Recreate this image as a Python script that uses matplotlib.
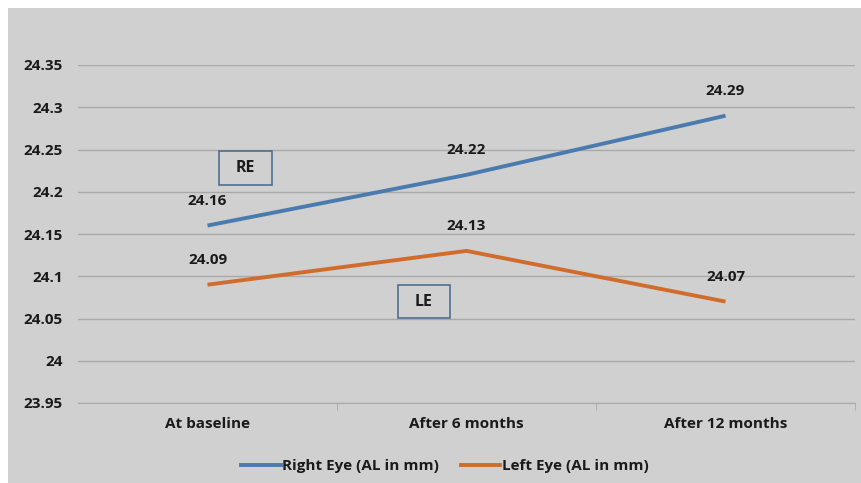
import matplotlib.pyplot as plt
from matplotlib.lines import Line2D
from matplotlib.patches import Rectangle

categories = ["At baseline", "After 6 months", "After 12 months"]
right_eye = [24.16, 24.22, 24.29]
left_eye = [24.09, 24.13, 24.07]
y_ticks = [23.95, 24, 24.05, 24.1, 24.15, 24.2, 24.25, 24.3, 24.35]
series_names = ["Right Eye (AL in mm)", "Left Eye (AL in mm)"]

BG = "#d0d0d0"
BLUE = "#4a7bae"
ORANGE = "#d06c2c"
GRID = "#a9a9a9"
TXT = "#1a1a1a"
W, H = 861, 483

plt.rcParams['font.family'] = ['Open Sans', 'DejaVu Sans']

fig = plt.figure(figsize=(W / 100, H / 100), dpi=100)
fig.patch.set_facecolor("white")
# grey chart area with a thin white margin on top and left
fig.patches.append(Rectangle((8 / W, 0), 1, 1 - 8 / H, transform=fig.transFigure,
                             facecolor=BG, edgecolor="none", zorder=-10))

ax = fig.add_axes([78 / W, 1 - 403 / H, (855 - 78) / W, (403 - 65) / H])
ax.set_zorder(1)
ax.set_facecolor(BG)
x = list(range(len(categories)))

ax.plot(x, right_eye, color=BLUE, lw=2.8, solid_capstyle="butt", zorder=3)
ax.plot(x, left_eye, color=ORANGE, lw=2.8, solid_capstyle="butt", zorder=3)

for series in (right_eye, left_eye):
    for xi, v in zip(x, series):
        ax.annotate(f"{v:g}", (xi, v), xytext=(0, 25), textcoords="offset pixels",
                    ha="center", va="center", fontsize=11, fontweight="bold", color=TXT)


def label_box(x0, y0, x1, y1, text):
    # framed text box placed in pixel coordinates of the figure
    ax.add_patch(Rectangle((x0 / W, 1 - y1 / H), (x1 - x0) / W, (y1 - y0) / H,
                           transform=fig.transFigure, facecolor="none",
                           edgecolor="#4f6f8f", lw=1.2, zorder=5))
    ax.text((x0 + x1) / 2 / W, 1 - (y0 + y1) / 2 / H, text, transform=fig.transFigure,
            ha="center", va="center", fontsize=11.5, fontweight="bold", color=TXT, zorder=5)


label_box(219, 151, 272, 185, "RE")
label_box(398, 285, 450, 318, "LE")

ax.set_xlim(-0.5, 2.5)
ax.set_ylim(23.95, 24.35)
ax.set_yticks(y_ticks)
ax.set_yticklabels([f"{t:g}" for t in y_ticks])
ax.yaxis.grid(True, color=GRID, lw=1)
ax.set_axisbelow(True)
ax.tick_params(axis="y", length=0, pad=11, labelsize=11, labelcolor=TXT)
for lab in ax.get_yticklabels():
    lab.set_fontweight("bold")
ax.set_xticks(x)
ax.set_xticklabels(categories, fontsize=11, fontweight="bold", color=TXT)
ax.tick_params(axis="x", length=0, pad=10)
# small category separator ticks
ax.set_xticks([0.5, 1.5, 2.5], minor=True)
ax.tick_params(axis="x", which="minor", length=5, color=GRID, direction="out")

for s in ["top", "right", "left"]:
    ax.spines[s].set_visible(False)
ax.spines["bottom"].set_color(GRID)

handles = [Line2D([], [], color=BLUE, lw=2.8), Line2D([], [], color=ORANGE, lw=2.8)]
leg = fig.legend(handles, series_names, loc="center", bbox_to_anchor=(445 / W, 1 - 466 / H),
                 ncol=2, frameon=False, handlelength=2.6, handletextpad=0.1, columnspacing=1.4,
                 prop=dict(size=11, weight="bold"))
for t in leg.get_texts():
    t.set_color(TXT)

fig.savefig("out.png", dpi=100, facecolor=fig.get_facecolor())
